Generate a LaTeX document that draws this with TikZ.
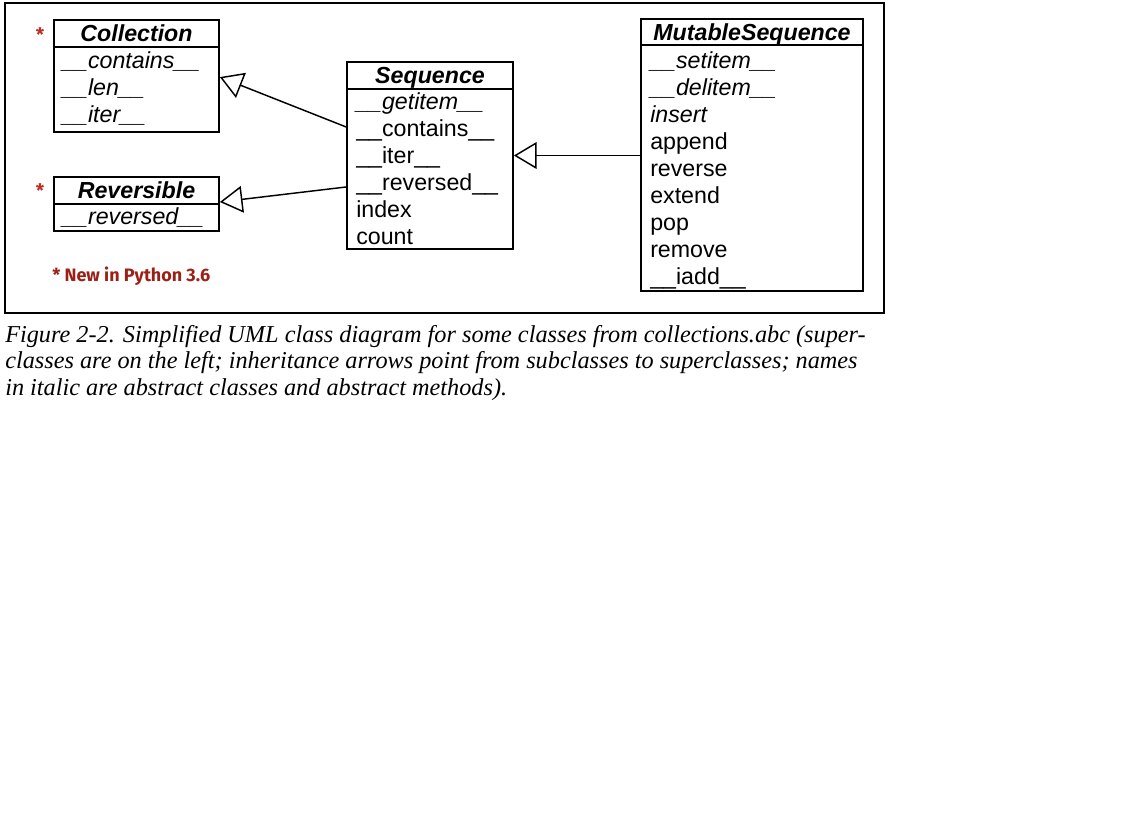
\documentclass[tikz,border=0pt]{standalone}
\usepackage{fontspec}
\setmainfont{Liberation Sans}
\newfontfamily\capfont{Liberation Serif}
\newfontfamily\notefont{Fira Sans}
\usetikzlibrary{arrows.meta,fit}
\definecolor{notered}{RGB}{155,32,22}
\definecolor{starred}{RGB}{185,45,35}
\tikzset{
  box/.style={draw, line width=1.3pt, inner sep=0pt},
  divider/.style={line width=1.3pt},
  head/.style={font=\fontsize{17.4}{20}\selectfont\bfseries\itshape, inner sep=0pt, anchor=base},
  item/.style={font=\fontsize{17.4}{20}\selectfont, inner sep=0pt, anchor=base west},
  aitem/.style={item, font=\fontsize{17.4}{20}\selectfont\itshape},
  inh/.style={line width=1.1pt, -{Triangle[open, length=17pt, width=20pt, line width=1.1pt]}},
  star/.style={text=starred, font=\notefont\bfseries\fontsize{14}{16}\selectfont, inner sep=0pt},
  note/.style={text=notered, font=\notefont\bfseries\fontsize{13.5}{16}\selectfont, inner sep=0pt, anchor=west},
  captext/.style={font=\capfont\itshape\fontsize{18.2}{20}\selectfont, inner sep=0pt, anchor=base west},
  frame/.style={draw, line width=1.1pt, inner sep=0pt}
}
\begin{document}
\begin{tikzpicture}[x=0.75pt,y=-0.75pt]
\useasboundingbox (0,0) rectangle (1146,829);
% outer frame
\node[frame, fit={(5,3) (884,313)}] (frm) {};

% Collection
\node[box, fit={(54,20) (219,132)}] (coll) {};
\draw[divider] (54,47) -- (219,47);
\node[head] (collh) at (136.5,41.5) {Collection};
\node[aitem] (c1) at (62,68) {\_\_contains\_\_};
\node[aitem] (c2) at (62,95) {\_\_len\_\_};
\node[aitem] (c3) at (62,122) {\_\_iter\_\_};
\node[star] (s1) at (40,35) {*};

% Reversible
\node[box, fit={(54,177) (219,231)}] (rev) {};
\draw[divider] (54,204) -- (219,204);
\node[head] (revh) at (136.5,198) {Reversible};
\node[aitem] (r1) at (62,224) {\_\_reversed\_\_};
\node[star] (s2) at (40,191) {*};

\node[note] (nt) at (52,276) {* New in Python 3.6};

% Sequence
\node[box, fit={(347,62) (513,249)}] (seq) {};
\draw[divider] (347,89) -- (513,89);
\node[head] (seqh) at (430,83.5) {Sequence};
\node[aitem] (q1) at (356,109) {\_\_getitem\_\_};
\node[item] (q2) at (356,136) {\_\_contains\_\_};
\node[item] (q3) at (356,163) {\_\_iter\_\_};
\node[item] (q4) at (356,190) {\_\_reversed\_\_};
\node[item] (q5) at (356,217) {index};
\node[item] (q6) at (356,244) {count};

% MutableSequence
\node[box, fit={(641,19) (863,291)}] (ms) {};
\draw[divider] (641,45) -- (863,45);
\node[head] (msh) at (752,40) {MutableSequence};
\node[aitem] (m1) at (650,68) {\_\_setitem\_\_};
\node[aitem] (m2) at (650,95) {\_\_delitem\_\_};
\node[aitem] (m3) at (650,122) {insert};
\node[item] (m4) at (650,149) {append};
\node[item] (m5) at (650,176) {reverse};
\node[item] (m6) at (650,203) {extend};
\node[item] (m7) at (650,230) {pop};
\node[item] (m8) at (650,257) {remove};
\node[item] (m9) at (650,284) {\_\_iadd\_\_};

% inheritance arrows
\draw[inh] ([yshift=21.4pt]seq.west) -- ([yshift=-0.8pt]coll.east);
\draw[inh] ([yshift=-23.6pt]seq.west) -- ([yshift=1.5pt]rev.east);
\draw[inh] (ms.west |- seq.east) -- (seq.east);

% caption
\node[captext] (cap1) at (5,342) {Figure 2-2. Simplified UML class diagram for some classes from collections.abc (super-};
\node[captext] (cap2) at (5,368) {classes are on the left; inheritance arrows point from subclasses to superclasses; names};
\node[captext] (cap3) at (5,395) {in italic are abstract classes and abstract methods).};
\end{tikzpicture}
\end{document}
